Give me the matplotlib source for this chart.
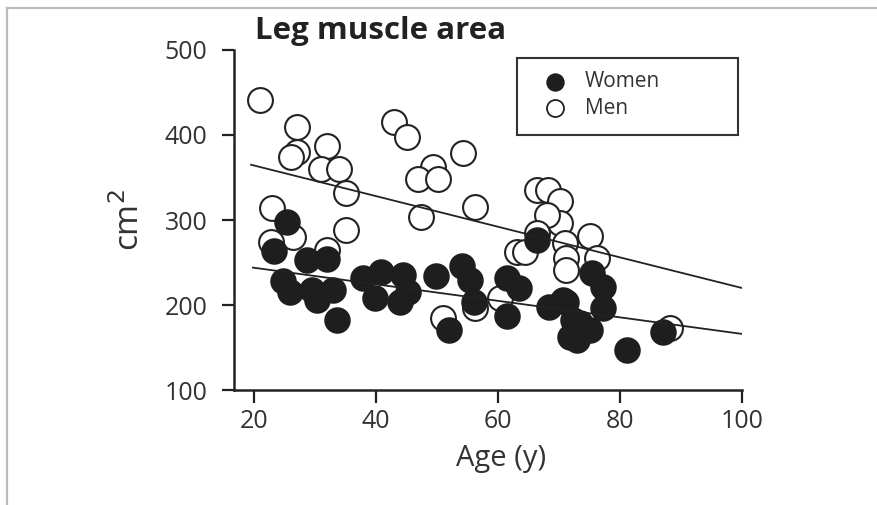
import matplotlib.pyplot as plt
from matplotlib.lines import Line2D
from matplotlib.patches import Rectangle

# values
men_age = [21, 27, 27, 26, 32, 31, 34, 35, 23, 26.4, 35, 43, 45, 54.3, 49.3, 46.9, 50.2,
           56.2, 47.4, 66.4, 68.2, 70.2, 70.2, 68, 66.4, 71, 71.1, 71.1, 75.1, 76.2,
           63.1, 64.4, 22.8, 32, 51, 56.2, 60.3, 88.2]
men_area = [441, 409, 380, 374, 387, 360, 360, 332, 314, 280, 288, 415, 398, 379, 362, 348, 348,
            315, 304, 335, 335, 322, 296, 306, 285, 273, 255, 241, 281, 255,
            262, 262, 274, 265, 185, 197, 208, 173]

women_age = [23.3, 25.4, 24.7, 25.9, 28.7, 32, 29.5, 30.3, 33, 33.6, 37.9, 40.8, 44.4, 39.8,
             43.9, 45.2, 49.8, 54.1, 55.4, 56.1, 61.5, 63.4, 61.5, 52, 66.4, 68.4, 71.1,
             72.3, 72.9, 75.4, 77.2, 70.7, 77.2, 73.4, 71.8, 75, 81.1, 87]
women_area = [264, 298, 228, 215, 253, 254, 218, 206, 218, 182, 232, 239, 235, 208,
              204, 215, 234, 246, 229, 204, 232, 220, 187, 171, 276, 198, 204,
              182, 159, 238, 221, 206, 196, 179, 162, 171, 147, 168]

# fitted lines (end points)
men_fit_x = [19.5, 100]
men_fit_y = [365, 220]
women_fit_x = [19.8, 100]
women_fit_y = [244, 166]

x_ticks = [20, 40, 60, 80, 100]
y_ticks = [100, 200, 300, 400, 500]
legend_labels = ['Women', 'Men']

plt.rcParams['font.family'] = ['Open Sans', 'DejaVu Sans']
txt = '#333333'
ink = '#1e1e1e'

fig = plt.figure(figsize=(8.78, 5.05), dpi=100)
ax = fig.add_axes([0.2665, 0.2277, 0.5786, 0.6733])

ax.scatter(women_age, women_area, s=320, c=ink, edgecolors=ink,
           linewidths=1.2, zorder=3)
ax.scatter(men_age, men_area, s=320, c='white', edgecolors='#222222',
           linewidths=1.5, zorder=2)
ax.plot(men_fit_x, men_fit_y, color='#222222', lw=1.3, zorder=4)
ax.plot(women_fit_x, women_fit_y, color='#222222', lw=1.3, zorder=4)

ax.set_xlim(16.7, 100)
ax.set_ylim(100, 500)
ax.set_xticks(x_ticks)
ax.set_yticks(y_ticks)
ax.spines['top'].set_visible(False)
ax.spines['right'].set_visible(False)
for s in ['left', 'bottom']:
    ax.spines[s].set_linewidth(1.8)
    ax.spines[s].set_color('#222222')
ax.tick_params(length=9, width=1.6, color='#222222', labelsize=18, labelcolor=txt)
ax.tick_params(axis='y', pad=10)
ax.tick_params(axis='x', pad=5)

ax.set_xlabel('Age (y)', fontsize=21, color=txt)
ax.xaxis.set_label_coords(0.525, -0.16)
ax.set_ylabel('cm$^2$', fontsize=24, color=txt)
ax.yaxis.set_label_coords(-0.171, 0.5)

# legend box drawn by hand to match the placement
ax.add_patch(Rectangle((0.557, 0.75), 0.435, 0.226, transform=ax.transAxes,
                       facecolor='white', edgecolor='#333333', lw=1.5, zorder=5))
ax.scatter([0.632], [0.906], s=150, c=ink, edgecolors=ink, transform=ax.transAxes, zorder=6)
ax.scatter([0.632], [0.829], s=150, c='white', edgecolors='#222222', lw=1.3,
           transform=ax.transAxes, zorder=6)
ax.text(0.691, 0.906, legend_labels[0], transform=ax.transAxes, fontsize=15,
        color=txt, va='center', zorder=6)
ax.text(0.691, 0.829, legend_labels[1], transform=ax.transAxes, fontsize=15,
        color=txt, va='center', zorder=6)

fig.text(255 / 878, 1 - 31 / 505, 'Leg muscle area', fontsize=22.5, fontweight='bold',
         color='#222222', ha='left', va='center')

# thin grey frame lines of the original page
fig.add_artist(Line2D([7 / 878, 1], [1 - 8 / 505, 1 - 8 / 505], color='#bbbbbb', lw=1.6))
fig.add_artist(Line2D([7 / 878, 7 / 878], [0, 1 - 8 / 505], color='#bbbbbb', lw=1.6))

fig.savefig('out.png', dpi=100)
